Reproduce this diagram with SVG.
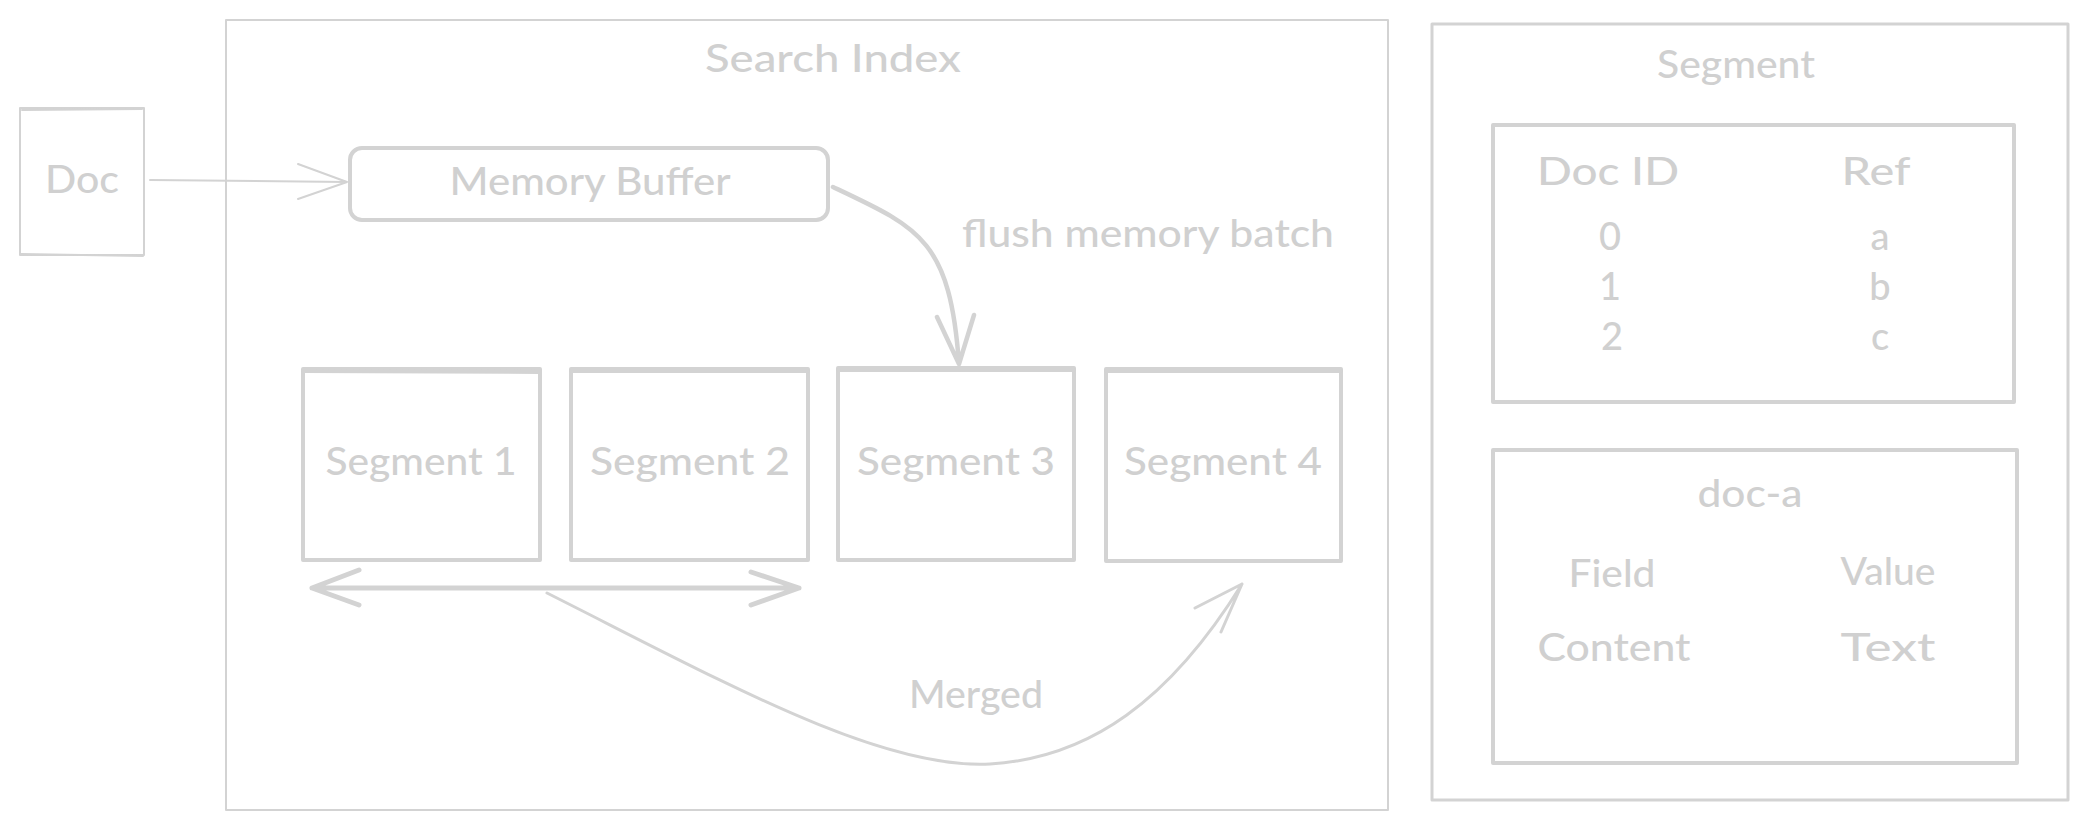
<svg xmlns="http://www.w3.org/2000/svg" width="2087" height="830" viewBox="0 0 2087 830">
<defs>
<style>
.bx{fill:none;stroke:#d3d3d3;stroke-linejoin:round;stroke-linecap:round}
.thin{stroke-width:2}
.mid{stroke-width:3}
.thk{stroke-width:4}
.t{font-family:Lato,"Open Sans","Liberation Sans",sans-serif;font-size:38px;font-weight:500;fill:#d0d0d0}
.c{text-anchor:middle}
.ln{fill:none;stroke:#d3d3d3;stroke-linecap:round;stroke-linejoin:round}
</style>
</defs>
<rect width="2087" height="830" fill="#ffffff"/>

<g id="search-index">
<rect class="bx thin" x="226" y="20" width="1162" height="790"/>
<text class="t c" x="833" y="72" textLength="256" lengthAdjust="spacingAndGlyphs">Search Index</text>
</g>

<g id="doc">
<rect class="bx thin" x="20" y="108" width="124" height="147"/>
<path class="bx thin" d="M22 110 L142 109 M21 254 L143 256"/>
<text class="t c" x="82" y="193" textLength="74" lengthAdjust="spacingAndGlyphs">Doc</text>
</g>

<g id="memory-buffer">
<rect class="bx thk" x="350" y="148" width="478" height="72" rx="12"/>
<text class="t c" x="590" y="195" textLength="281" lengthAdjust="spacingAndGlyphs">Memory Buffer</text>
</g>

<g id="segment-1">
<rect class="bx thk" x="303" y="369" width="237" height="191"/>
<path class="bx thk" d="M303 371 L540 372"/>
<text class="t c" x="421" y="475" textLength="191" lengthAdjust="spacingAndGlyphs">Segment 1</text>
</g>
<g id="segment-2">
<rect class="bx thk" x="571" y="369" width="237" height="191"/>
<path class="bx thk" d="M571 371 L808 371"/>
<text class="t c" x="690" y="475" textLength="200" lengthAdjust="spacingAndGlyphs">Segment 2</text>
</g>
<g id="segment-3">
<rect class="bx thk" x="838" y="368" width="236" height="192"/>
<path class="bx thk" d="M838 370 L1074 370"/>
<text class="t c" x="956" y="475" textLength="198" lengthAdjust="spacingAndGlyphs">Segment 3</text>
</g>
<g id="segment-4">
<rect class="bx thk" x="1106" y="369" width="235" height="192"/>
<path class="bx thk" d="M1106 371 L1341 371"/>
<text class="t c" x="1223" y="475" textLength="198" lengthAdjust="spacingAndGlyphs">Segment 4</text>
</g>

<g id="segment-panel">
<rect class="bx mid" x="1432" y="24" width="636" height="776"/>
<text class="t c" x="1736" y="78" textLength="158" lengthAdjust="spacingAndGlyphs">Segment</text>
</g>

<g id="doc-id-table">
<rect class="bx thk" x="1493" y="125" width="521" height="277"/>
<text class="t c" x="1608" y="185" textLength="142" lengthAdjust="spacingAndGlyphs">Doc ID</text>
<text class="t c" x="1876" y="185" textLength="69" lengthAdjust="spacingAndGlyphs">Ref</text>
<text class="t c" x="1610" y="250">0</text>
<text class="t c" x="1610" y="300">1</text>
<text class="t c" x="1612" y="350">2</text>
<text class="t c" x="1880" y="250">a</text>
<text class="t c" x="1880" y="300">b</text>
<text class="t c" x="1880" y="350">c</text>
</g>

<g id="doc-a">
<rect class="bx thk" x="1493" y="450" width="524" height="313"/>
<text class="t c" x="1750" y="507" textLength="105" lengthAdjust="spacingAndGlyphs">doc-a</text>
<text class="t c" x="1612" y="587" textLength="87" lengthAdjust="spacingAndGlyphs">Field</text>
<text class="t c" x="1888" y="585" textLength="95" lengthAdjust="spacingAndGlyphs">Value</text>
<text class="t c" x="1614" y="661" textLength="153" lengthAdjust="spacingAndGlyphs">Content</text>
<text class="t c" x="1888" y="661" textLength="95" lengthAdjust="spacingAndGlyphs">Text</text>
</g>

<g id="connectors">
<path class="ln" stroke-width="2" d="M150 180 L347 182 M298 164 L347 182 L298 199"/>
<path class="ln" stroke-width="4.5" d="M833 187 C920 228 950 240 959 364 M937 317 L959 364 L974 315"/>
<path class="ln" stroke-width="5" d="M312 588 L799 588 M359 570 L312 588 L359 605 M751 572 L799 588 L751 605"/>
<path class="ln" stroke-width="3" d="M547 593 C720 680 880 770 990 764 C1090 758 1170 700 1242 584 M1195 608 L1242 584 L1221 632"/>
<text class="t" x="909" y="708" textLength="134" lengthAdjust="spacingAndGlyphs">Merged</text>
<text class="t" x="962" y="247" textLength="372" lengthAdjust="spacingAndGlyphs">flush memory batch</text>
</g>
</svg>
